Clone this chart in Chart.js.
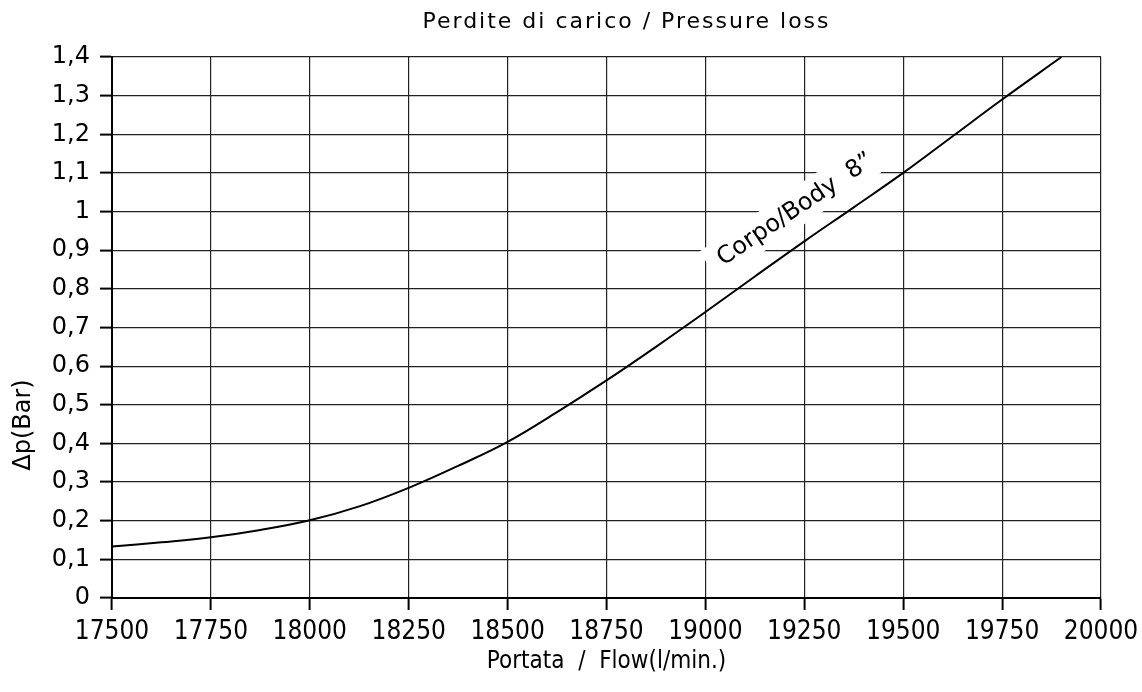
<!DOCTYPE html>
<html>
<head>
<meta charset="utf-8">
<script src="https://cdn.jsdelivr.net/npm/chart.js@4"></script>
<style>
  html, body { margin: 0; padding: 0; background: #fff; }
  #wrap { width: 1142px; height: 692px; }
</style>
</head>
<body>
<div id="wrap"><canvas id="chartId" width="1142" height="692"></canvas></div>
<script>
// portata (l/min) and perdita di carico (bar)
var flow = [17500, 17625, 17750, 17875, 18000, 18125, 18250, 18375, 18500, 18625,
            18750, 18875, 19000, 19125, 19250, 19375, 19500, 19625, 19750, 19900];
var loss = [0.133, 0.144, 0.157, 0.176, 0.201, 0.237, 0.285, 0.342, 0.404, 0.481,
            0.563, 0.650, 0.740, 0.832, 0.923, 1.011, 1.100, 1.195, 1.290, 1.400];
var yTickLabels = ['0', '0,1', '0,2', '0,3', '0,4', '0,5', '0,6', '0,7',
                   '0,8', '0,9', '1', '1,1', '1,2', '1,3', '1,4'];
var xTickLabels = ['17500', '17750', '18000', '18250', '18500', '18750',
                   '19000', '19250', '19500', '19750', '20000'];
var seriesName = 'Corpo/Body  8\u201D';
var chartTitle = 'Perdite di carico / Pressure loss';

var FONT = "'DejaVu Sans', sans-serif";
var FONT_C = "'DejaVu Sans Condensed', 'DejaVu Sans', sans-serif";

// curve label, drawn on a white patch that hides the grid
var curveLabel = {
    id: 'curveLabel',
    beforeDatasetsDraw: function (chart) {
        var ctx = chart.ctx;
        var x = chart.scales.x.getPixelForValue(19228);
        var y = chart.scales.y.getPixelForValue(1.005);
        ctx.save();
        ctx.translate(x, y);
        ctx.rotate(-34 * Math.PI / 180);
        ctx.font = '24px ' + FONT;
        var w = ctx.measureText(seriesName).width;
        ctx.fillStyle = '#fff';
        ctx.fillRect(-w / 2 - 12, -19, w + 16, 36);
        ctx.fillStyle = '#000';
        ctx.textAlign = 'center';
        ctx.textBaseline = 'middle';
        ctx.fillText(seriesName, 0, 0);
        ctx.restore();
    }
};

// title (spaced letters) and y axis title, which sits below the axis centre
var extraText = {
    id: 'extraText',
    afterDraw: function (chart) {
        var ctx = chart.ctx;
        ctx.save();
        ctx.fillStyle = '#000';
        ctx.textAlign = 'center';
        ctx.textBaseline = 'middle';
        ctx.font = '22px ' + FONT;
        ctx.letterSpacing = '2px';
        ctx.fillText(chartTitle, (chart.chartArea.left + chart.chartArea.right) / 2 + 20, 22);
        ctx.letterSpacing = '0px';
        ctx.translate(24, 425);
        ctx.rotate(-Math.PI / 2);
        ctx.font = '24px ' + FONT;
        ctx.fillText('\u0394p(Bar)', 0, 0);
        ctx.restore();
    }
};

window.onload = function () {
    var chrt = document.getElementById('chartId').getContext('2d');
    var points = flow.map(function (f, i) { return { x: f, y: loss[i] }; });
    var chartId = new Chart(chrt, {
        type: 'line',
        data: {
            datasets: [{
                label: seriesName,
                data: points,
                borderColor: '#000',
                borderWidth: 2,
                pointRadius: 0,
                tension: 0.4,
                fill: false
            }]
        },
        plugins: [curveLabel, extraText],
        options: {
            responsive: false,
            animation: false,
            layout: { padding: { left: 0, right: 41, top: 57, bottom: 0 } },
            plugins: {
                legend: { display: false },
                tooltip: { enabled: false },
                title: { display: false }
            },
            scales: {
                x: {
                    type: 'linear',
                    min: 17500,
                    max: 20000,
                    afterFit: function (scale) {
                        scale.height = 94;
                        scale.paddingRight = 36;
                    },
                    ticks: {
                        stepSize: 250,
                        color: '#000',
                        padding: 7,
                        maxRotation: 0,
                        font: { family: FONT_C, size: 26 },
                        callback: function (value, index) { return xTickLabels[index]; }
                    },
                    grid: {
                        color: '#222',
                        lineWidth: 1.2,
                        tickLength: 12,
                        tickColor: '#000',
                        tickWidth: 2
                    },
                    border: { color: '#000', width: 2 },
                    title: {
                        display: true,
                        text: 'Portata  /  Flow(l/min.)',
                        color: '#000',
                        font: { family: FONT_C, size: 24 },
                        padding: { top: 8, bottom: 16 }
                    }
                },
                y: {
                    min: 0,
                    max: 1.4,
                    afterFit: function (scale) { scale.width = 112; },
                    ticks: {
                        stepSize: 0.1,
                        color: '#000',
                        padding: 10,
                        font: { family: FONT, size: 24 },
                        callback: function (value, index) { return yTickLabels[index]; }
                    },
                    grid: {
                        color: '#222',
                        lineWidth: 1.2,
                        tickLength: 12,
                        tickColor: '#000',
                        tickWidth: 2
                    },
                    border: { color: '#000', width: 2 }
                }
            }
        }
    });
};
</script>
</body>
</html>
